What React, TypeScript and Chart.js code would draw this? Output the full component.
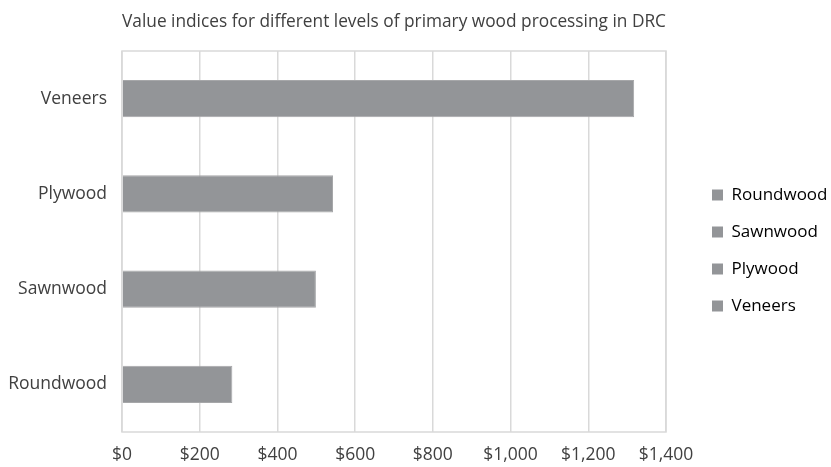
import React, { useEffect, useRef } from "react";
import { Chart, registerables } from "chart.js";

Chart.register(...registerables);

const categories = ["Roundwood", "Sawnwood", "Plywood", "Veneers"];
const values = [284, 499, 543, 1318];
const xTickValues = [0, 200, 400, 600, 800, 1000, 1200, 1400];
const titleText = "Value indices for different levels of primary wood processing in DRC";

const BAR = "#939598";
const BAR_EDGE = "#a6a7a9";
const GRID = "#d9d9d9";
const TEXT = "#404040";
const FONT = "'Open Sans'";

const plotBorder = {
  id: "plotBorder",
  afterDatasetsDraw(chart: any) {
    const { ctx, chartArea } = chart;
    ctx.save();
    ctx.strokeStyle = GRID;
    ctx.lineWidth = 1.5;
    ctx.strokeRect(chartArea.left, chartArea.top, chartArea.right - chartArea.left, chartArea.bottom - chartArea.top);
    ctx.restore();
  },
};

// fixes the legend column width and nudges it away from the plot, like the original
const legendPlace = {
  id: "legendPlace",
  beforeLayout(chart: any) {
    const lg = chart.legend;
    if (lg && !lg.__patched) {
      const f = lg.fit.bind(lg);
      lg.fit = () => {
        f();
        lg.width = 165;
      };
      lg.__patched = true;
    }
  },
  afterLayout(chart: any) {
    const lg = chart.legend;
    if (!lg) return;
    lg.left += 26;
    lg.right += 26;
    lg.top += 17;
    lg.bottom += 17;
  },
};

export default function App() {
  const ref = useRef<HTMLCanvasElement | null>(null);
  useEffect(() => {
    if (!ref.current) return;
    const chart = new Chart(ref.current, {
      type: "bar",
      data: {
        labels: categories,
        datasets: [
          {
            data: values,
            backgroundColor: BAR,
            borderColor: BAR_EDGE,
            borderWidth: 1,
            barPercentage: 0.39,
            categoryPercentage: 1,
          },
        ],
      },
      options: {
        indexAxis: "y",
        animation: false,
        responsive: false,
        maintainAspectRatio: false,
        layout: { padding: { left: 0, right: 0, top: 0, bottom: 0 } },
        scales: {
          x: {
            min: 0,
            max: 1400,
            afterBuildTicks: (s: any) => {
              s.ticks = xTickValues.map((v) => ({ value: v }));
            },
            afterFit: (s: any) => {
              s.height = 35;
            },
            ticks: {
              color: TEXT,
              font: { family: FONT, size: 17.5 },
              padding: 13,
              maxRotation: 0,
              callback: (v: any) => "$" + Number(v).toLocaleString("en-US"),
            },
            grid: { color: GRID, lineWidth: 1.5, drawTicks: false },
            border: { display: false },
          },
          y: {
            reverse: true,
            afterFit: (s: any) => {
              s.width = 122;
            },
            ticks: { color: TEXT, font: { family: FONT, size: 17.5 }, padding: 15 },
            grid: { display: false, drawTicks: false },
            border: { display: false },
          },
        },
        plugins: {
          title: {
            display: true,
            text: titleText,
            fullSize: false,
            color: TEXT,
            font: { family: FONT, size: 17.5, weight: "normal" },
            padding: { top: 12, bottom: 18 },
          },
          legend: {
            position: "right",
            labels: {
              color: TEXT,
              font: { family: FONT, size: 17 },
              boxWidth: 11,
              boxHeight: 11,
              padding: 20,
              generateLabels: () =>
                categories.map((c, i) => ({
                  text: c,
                  fillStyle: BAR,
                  strokeStyle: BAR,
                  lineWidth: 0,
                  hidden: false,
                  index: i,
                  datasetIndex: 0,
                })),
            },
          },
          tooltip: { enabled: false },
        },
      },
      plugins: [plotBorder, legendPlace],
    });
    return () => chart.destroy();
  }, []);
  return (
    <div style={{ position: "fixed", left: 0, top: 0, width: 831, height: 467, background: "#fff" }}>
      <canvas ref={ref} width={831} height={467} style={{ width: 831, height: 467 }} />
    </div>
  );
}
